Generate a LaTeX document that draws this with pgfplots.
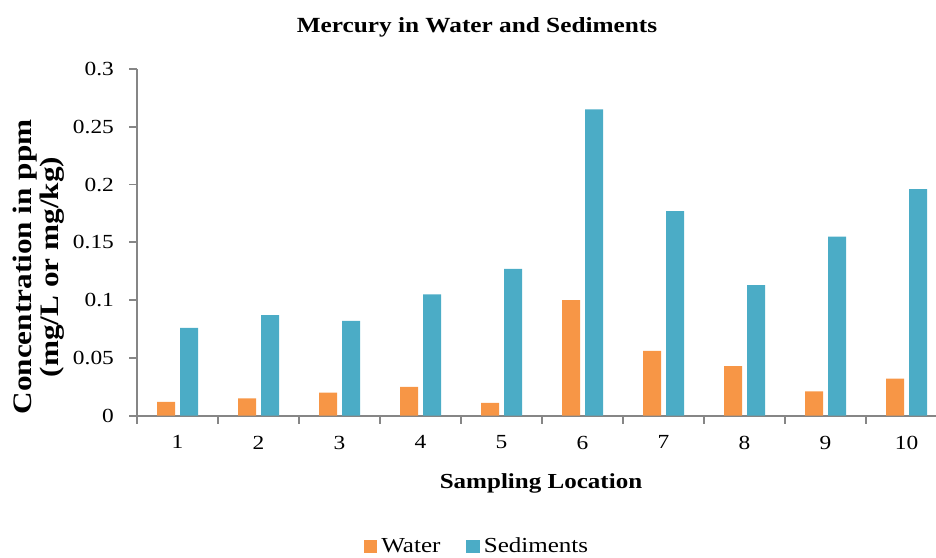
\documentclass[border=0pt]{standalone}
\usepackage{pgfplots}
\pgfplotsset{compat=1.18}
\usepackage{fontspec}
\setmainfont{Liberation Serif}[FakeStretch=1.17]
\newcommand\fst{\rmfamily\fontsize{10}{12}\selectfont}
\newcommand\fsl{\rmfamily\fontsize{10.7}{13.5}\selectfont}
\definecolor{wat}{HTML}{F79646}
\definecolor{sed}{HTML}{4BACC6}
\definecolor{axgray}{HTML}{868686}
\begin{document}
\begin{tikzpicture}
\path[use as bounding box] (0pt,0pt) rectangle (468pt,278.5pt);
\begin{axis}[
  at={(68.5pt,70.65pt)}, anchor=south west,
  scale only axis,
  width=399.5pt, height=173.35pt,
  xmin=0.5, xmax=10.364,
  ymin=0, ymax=0.3,
  axis lines*=left,
  axis line style={axgray, line width=0.9pt, -},
  every tick/.style={axgray, line width=0.9pt},
  tick align=outside,
  xtick={1,...,10},
  xticklabels={1,2,3,4,5,6,7,8,9,10},
  major x tick style={draw=none},
  minor xtick={0.5,1.5,2.5,3.5,4.5,5.5,6.5,7.5,8.5,9.5},
  minor tick length=4pt,
  major tick length=4pt,
  ytick={0,0.05,0.1,0.15,0.2,0.25,0.3},
  yticklabels={0,0.05,0.1,0.15,0.2,0.25,0.3},
  tick label style={font=\fst, black},
  yticklabel style={xshift=-4pt},
  xticklabel style={yshift=-2.5pt},
  ybar, bar width=9pt,
  legend columns=2,
  legend style={at={(0.4268,-0.378)}, anchor=center, draw=none, fill=none,
    font=\fsl, /tikz/every even column/.append style={column sep=11pt}},
  legend image code/.code={\fill[#1] (0pt,-3.3pt) rectangle (6.7pt,3.3pt);},
]
\addplot[fill=wat, draw=none, bar shift=-5.75pt] coordinates {
 (1,0.012) (2,0.015) (3,0.020) (4,0.025) (5,0.011)
 (6,0.100) (7,0.056) (8,0.043) (9,0.021) (10,0.032)};
\addlegendentry{Water}
\addplot[fill=sed, draw=none, bar shift=5.75pt] coordinates {
 (1,0.076) (2,0.087) (3,0.082) (4,0.105) (5,0.127)
 (6,0.265) (7,0.177) (8,0.113) (9,0.155) (10,0.196)};
\addlegendentry{Sediments}
\end{axis}
\node[anchor=base, font=\rmfamily\fontsize{10.8}{13}\selectfont\bfseries] at (238.5pt,262pt) {Mercury in Water and Sediments};
\node[anchor=base, font=\fsl\bfseries] at (270.5pt,34.25pt) {Sampling Location};
\node[rotate=90, align=center, font=\rmfamily\fontsize{13.35}{13.5}\selectfont\bfseries] at (19.25pt,145pt) {Concentration in ppm\\(mg/L or mg/kg)};
\end{tikzpicture}
\end{document}
